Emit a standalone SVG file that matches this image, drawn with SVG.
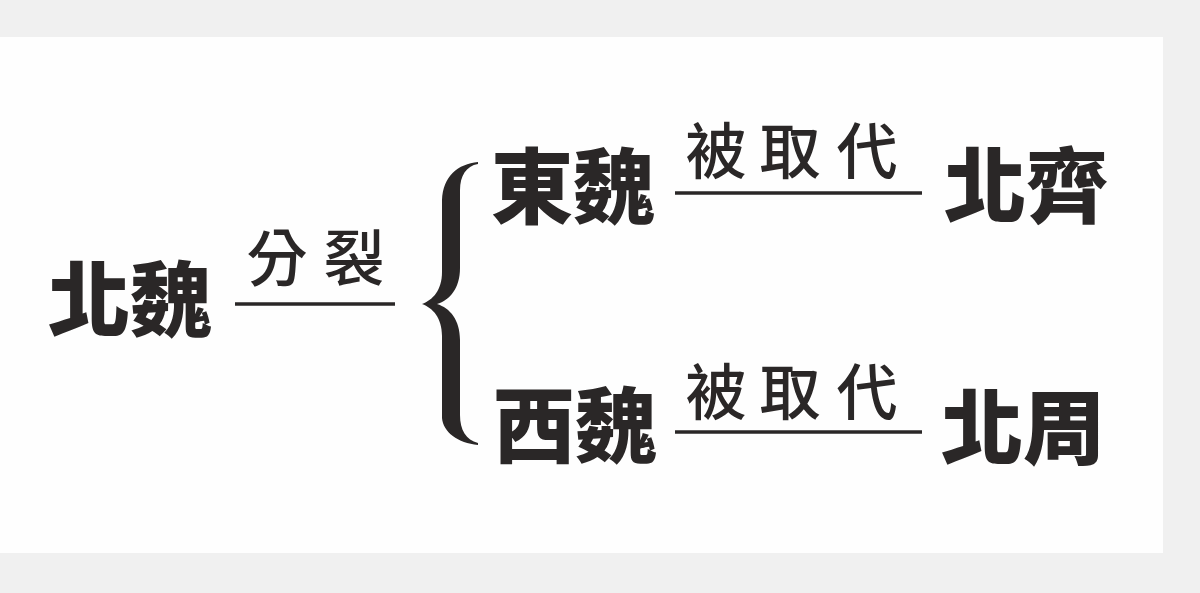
<svg xmlns="http://www.w3.org/2000/svg" width="1200" height="593" viewBox="0 0 1200 593">
<style>
.node{font-family:"Noto Sans CJK TC","Noto Sans CJK SC",sans-serif;font-weight:900;font-size:82px;fill:#2a2727;text-anchor:middle}
.lbl{font-family:"Noto Sans CJK TC","Noto Sans CJK SC",serif;font-weight:500;font-size:61px;fill:#2a2727;text-anchor:middle}
.ln{stroke:#2a2727;stroke-width:3.5;fill:none}
</style>
<rect x="0" y="0" width="1200" height="593" fill="#f0f0f0"/>
<rect x="0" y="37" width="1163" height="516" fill="#fefefe"/>
<g id="connectors">
<line class="ln" x1="235" y1="304" x2="395" y2="304"/>
<line class="ln" x1="675" y1="193" x2="922" y2="193"/>
<line class="ln" x1="675" y1="432" x2="922" y2="432"/>
<path id="brace" fill="#2a2727" d="M478,162 C458,164 443,176 442,200 L442,272 C442,290 433,300 422,304 C433,308 442,318 442,336 L442,418 C443,432 458,443 478,445 L478,443 C466,440 460,430 460,415 L460,340 C460,320 450,308 437,304 C450,300 460,288 460,268 L460,190 C460,176 466,166 478,164 Z"/>
<text class="lbl" x="277 354" y="281">分裂</text>
<text class="lbl" x="716 790 867" y="174">被取代</text>
<text class="lbl" x="716 790 867" y="415">被取代</text>
</g>
<g id="n-beiwei"><text class="node" x="130" y="330">北魏</text></g>
<g id="n-dongwei"><text class="node" x="573" y="217">東魏</text></g>
<g id="n-xiwei"><text class="node" x="575" y="456">西魏</text></g>
<g id="n-beiqi"><text class="node" x="1026" y="216">北齊</text></g>
<g id="n-beizhou"><text class="node" x="1023" y="458">北周</text></g>
</svg>
